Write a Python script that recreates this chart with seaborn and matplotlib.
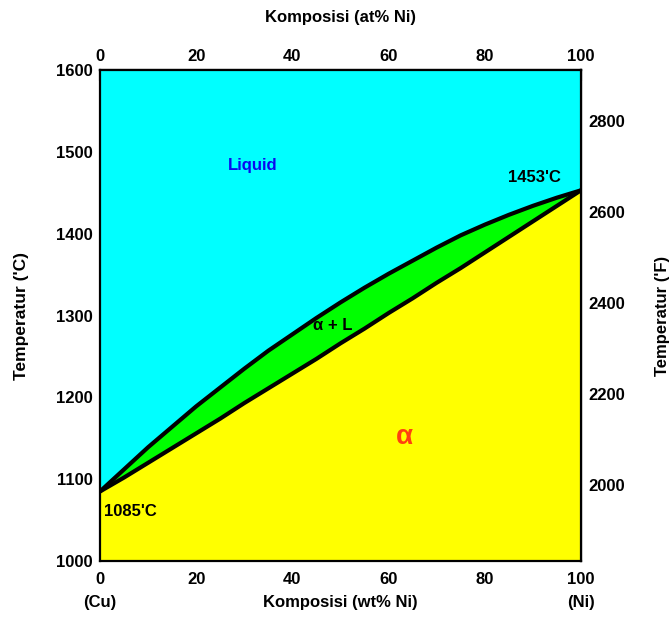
import numpy as np
import pandas as pd
import matplotlib
matplotlib.use("Agg")
import matplotlib.pyplot as plt
import seaborn as sns
from matplotlib.ticker import FixedLocator, FuncFormatter

# ---- data ----
wt_ni = [0, 5, 10, 15, 20, 25, 30, 35, 40, 45, 50, 55, 60, 65, 70, 75, 80, 85, 90, 95, 100]
liquidus_c = [1085, 1112, 1139, 1164, 1189, 1212, 1235, 1257, 1277, 1297, 1316, 1334, 1351,
              1367, 1383, 1398, 1411, 1423, 1434, 1444, 1453]
solidus_c = [1085, 1102, 1120, 1138, 1156, 1174, 1193, 1211, 1229, 1247, 1266, 1284, 1303,
             1321, 1340, 1358, 1377, 1396, 1415, 1434, 1453]

temp_c_ticks = [1000, 1100, 1200, 1300, 1400, 1500, 1600]
wt_major_ticks = [0, 20, 40, 60, 80, 100]
wt_minor_ticks = [10, 30, 50, 70, 90]
at_ticks = [0, 10, 20, 30, 40, 50, 60, 70, 80, 90, 100]
temp_f_major = [2000, 2200, 2400, 2600, 2800]
temp_f_minor = [1900, 2100, 2300, 2500, 2700, 2900]

df = pd.DataFrame({"wt": wt_ni, "liq": liquidus_c, "sol": solidus_c})

sns.set_style("white")
plt.rcParams['font.family'] = ['Liberation Sans', 'DejaVu Sans']
plt.rcParams['font.weight'] = 'bold'
plt.rcParams['axes.labelweight'] = 'bold'
for k in ['text.color', 'axes.labelcolor', 'xtick.color', 'ytick.color', 'axes.edgecolor']:
    plt.rcParams[k] = 'black'

fig = plt.figure(figsize=(6.7, 6.17), dpi=100)
ax = fig.add_axes([100 / 670, 56 / 617, 481 / 670, 491 / 617])

CYAN, GREEN, YELLOW = "#00ffff", "#00ff00", "#ffff00"
ax.fill_between(df["wt"], df["liq"], 1600, color=CYAN, lw=0)
ax.fill_between(df["wt"], df["sol"], df["liq"], color=GREEN, lw=0)
ax.fill_between(df["wt"], 1000, df["sol"], color=YELLOW, lw=0)

sns.lineplot(data=df, x="wt", y="liq", color="black", lw=3.0, ax=ax, sort=False)
sns.lineplot(data=df, x="wt", y="sol", color="black", lw=3.0, ax=ax, sort=False)
for ln in ax.lines:
    ln.set_solid_joinstyle("round")
    ln.set_solid_capstyle("round")

ax.set_xlim(0, 100)
ax.set_ylim(1000, 1600)

for s in ax.spines.values():
    s.set_linewidth(1.6)
    s.set_color("black")

ax.set_yticks(temp_c_ticks)
ax.set_xticks(wt_major_ticks)
ax.xaxis.set_minor_locator(FixedLocator(wt_minor_ticks))
ax.tick_params(axis="both", which="major", direction="in", length=15, width=1.5,
               labelsize=12, colors="black")
ax.tick_params(axis="x", which="major", pad=8)
ax.tick_params(axis="y", which="major", pad=5)
ax.tick_params(axis="x", which="minor", direction="in", length=7.5, width=1.5)
ax.tick_params(axis="y", which="major", right=False)

# top axis (at% Ni)
secx = ax.secondary_xaxis("top", functions=(lambda x: x, lambda x: x))
secx.set_xticks(at_ticks)
secx.xaxis.set_major_formatter(FuncFormatter(lambda v, p: f"{int(round(v))}" if int(round(v)) % 20 == 0 else ""))
secx.tick_params(direction="in", length=8, width=1.5, labelsize=12, pad=4, colors="black")
secx.spines["top"].set_linewidth(1.6)
secx.set_xlabel("Komposisi (at% Ni)", fontsize=12, fontweight="bold", labelpad=20)

# right axis (Fahrenheit)
secy = ax.secondary_yaxis("right", functions=(lambda c: c * 1.8 + 32, lambda f: (f - 32) / 1.8))
secy.set_yticks(temp_f_major)
secy.yaxis.set_minor_locator(FixedLocator(temp_f_minor))
secy.tick_params(which="major", direction="in", length=15, width=1.5, labelsize=12, pad=5, colors="black")
secy.tick_params(which="minor", direction="in", length=8, width=1.5, colors="black")
secy.spines["right"].set_linewidth(1.6)
secy.set_ylabel("Temperatur ('F)", fontsize=12, fontweight="bold", labelpad=22)

ax.set_xlabel("Komposisi (wt% Ni)", fontsize=12, fontweight="bold", labelpad=6)
ax.set_ylabel("Temperatur ('C)", fontsize=12.5, fontweight="bold", labelpad=20)

ax.text(0, -0.085, "(Cu)", transform=ax.transAxes, ha="center", va="center", fontsize=12, fontweight="bold")
ax.text(1, -0.085, "(Ni)", transform=ax.transAxes, ha="center", va="center", fontsize=12, fontweight="bold")

ax.text(31.8, 1483, "Liquid", color="#0a0aee", fontsize=12, fontweight="bold", ha="center", va="center")
ax.text(48.4, 1288, "\u03b1 + L", color="black", fontsize=12, fontweight="bold", ha="center", va="center")
ax.text(63.2, 1152, "\u03b1", color="#ff4010", fontsize=20, fontweight="bold", ha="center", va="center")
ax.text(90.4, 1469, "1453'C", color="black", fontsize=12, fontweight="bold", ha="center", va="center")
ax.text(6.4, 1061, "1085'C", color="black", fontsize=12, fontweight="bold", ha="center", va="center")

fig.savefig("out.png", dpi=100)
